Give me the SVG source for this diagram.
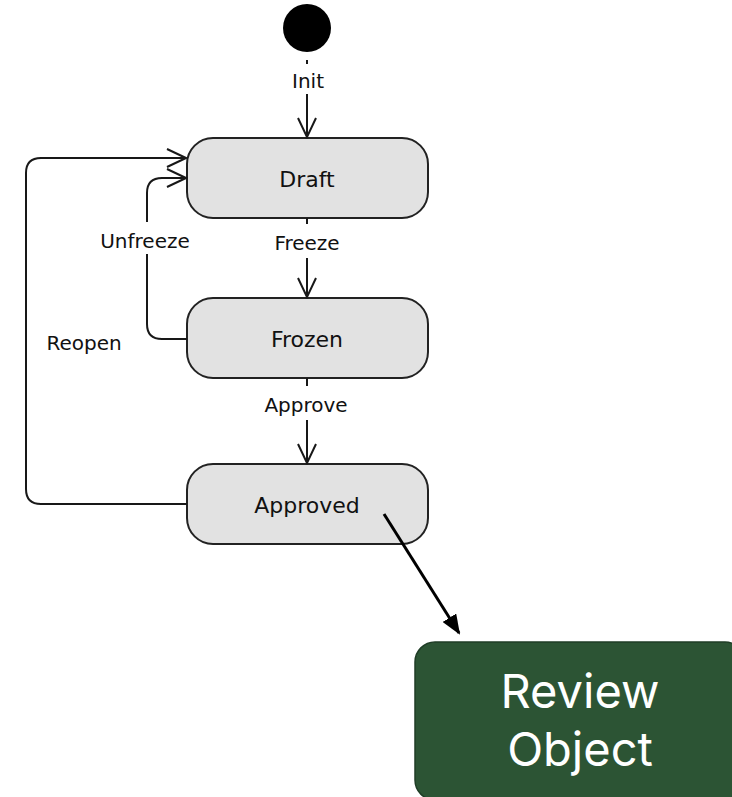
<svg xmlns="http://www.w3.org/2000/svg" width="732" height="797" viewBox="0 0 732 797">
<style>
.state rect{fill:#E2E2E2;stroke:#222;stroke-width:2}
.state text{font-family:"DejaVu Sans",sans-serif;font-size:22px;fill:#111;text-anchor:middle}
.lbl{font-family:"DejaVu Sans",sans-serif;font-size:20px;fill:#111;text-anchor:middle}
.edge{fill:none;stroke:#181818;stroke-width:2}
</style>
<defs>
<marker id="open" viewBox="0 0 22 22" refX="20" refY="11" markerWidth="22" markerHeight="22" markerUnits="userSpaceOnUse" orient="auto">
<path d="M1,2 L20,11 L1,20" fill="none" stroke="#181818" stroke-width="2"/>
</marker>
<marker id="solid" viewBox="0 0 20 16" refX="18" refY="8" markerWidth="20" markerHeight="16" markerUnits="userSpaceOnUse" orient="auto">
<path d="M0,0 L20,8 L0,16 Z" fill="#000"/>
</marker>
</defs>
<g id="start"><circle cx="307" cy="28" r="24" fill="#000"/></g>
<g id="draft" class="state"><rect x="187" y="138" width="241" height="80" rx="26"/><text x="307" y="187">Draft</text></g>
<g id="frozen" class="state"><rect x="187" y="298" width="241" height="80" rx="26"/><text x="307" y="347">Frozen</text></g>
<g id="approved" class="state"><rect x="187" y="464" width="241" height="80" rx="26"/><text x="307" y="513">Approved</text></g>
<g id="review"><rect x="415" y="642" width="330" height="158" rx="20" fill="#2C5434" stroke="#1F3D26" stroke-width="1.5"/><text x="580" y="708" font-family="Inter,sans-serif" font-size="47" fill="#fff" text-anchor="middle">Review</text><text x="580" y="766" font-family="Inter,sans-serif" font-size="47" fill="#fff" text-anchor="middle">Object</text></g>
<g id="connectors">
<path class="edge" d="M307,60 V64"/>
<text class="lbl" x="308" y="88">Init</text>
<path class="edge" d="M307,94 V137" marker-end="url(#open)"/>
<path class="edge" d="M307,218 V224"/>
<text class="lbl" x="307" y="250">Freeze</text>
<path class="edge" d="M307,258 V297" marker-end="url(#open)"/>
<path class="edge" d="M307,378 V386"/>
<text class="lbl" x="306" y="412">Approve</text>
<path class="edge" d="M307,420 V463" marker-end="url(#open)"/>
<path class="edge" d="M187,339 H162 Q147,339 147,324 V254"/>
<path class="edge" d="M147,222 V193 Q147,178 162,178 H186" marker-end="url(#open)"/>
<text class="lbl" x="145" y="248">Unfreeze</text>
<path class="edge" d="M187,504 H41 Q26,504 26,489 V173 Q26,158 41,158 H186" marker-end="url(#open)"/>
<text class="lbl" x="84" y="350">Reopen</text>
<path d="M384,514 L459,633" fill="none" stroke="#000" stroke-width="3" marker-end="url(#solid)"/>
</g>
</svg>
